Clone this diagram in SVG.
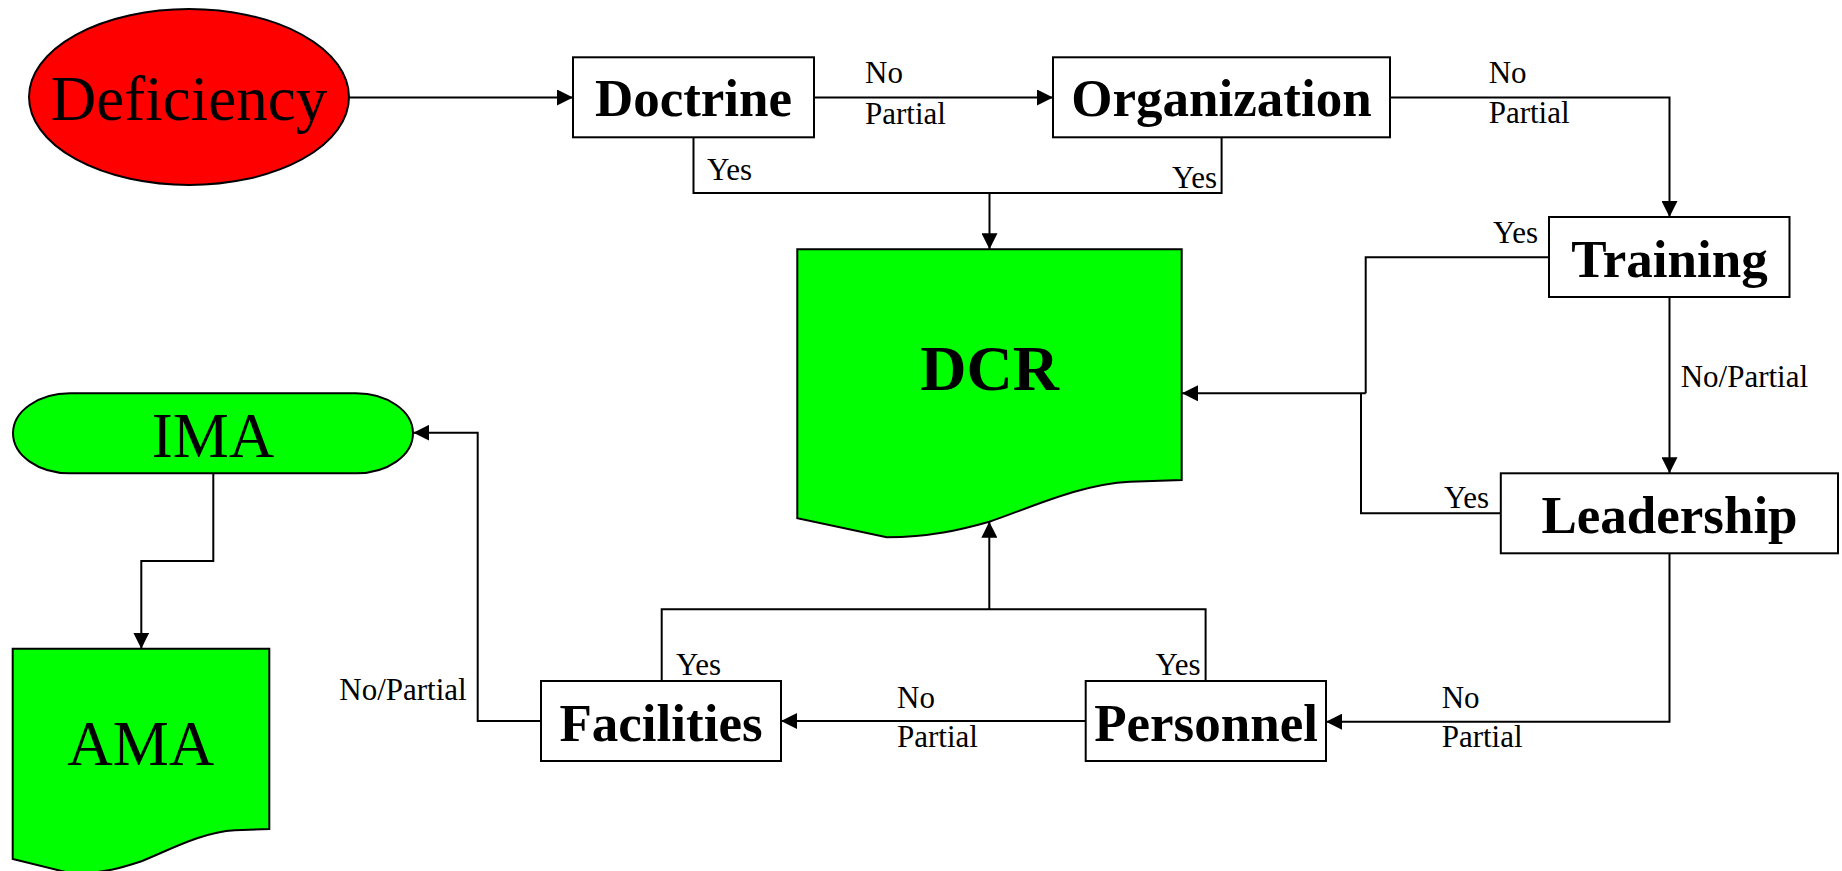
<svg xmlns="http://www.w3.org/2000/svg" width="1842" height="871" viewBox="0 0 1842 871">
<style>
.box{fill:#fff;stroke:#000;stroke-width:2}
.green{fill:#00ff00;stroke:#000;stroke-width:2}
.red{fill:#ff0000;stroke:#000;stroke-width:2}
.conn path{fill:none;stroke:#000;stroke-width:2}
.arr{marker-end:url(#ah)}
.t{font-family:"Liberation Serif","Times New Roman",serif;fill:#000}
.big{font-size:63px;text-anchor:middle}
.bold{font-size:53px;font-weight:bold;text-anchor:middle}
.lbl{font-size:31px}
</style>
<defs>
<marker id="ah" markerUnits="userSpaceOnUse" markerWidth="16" markerHeight="16" refX="16" refY="8" orient="auto">
<path d="M0,0 L16,8 L0,16 z" fill="#000"/>
</marker>
</defs>
<rect width="1842" height="871" fill="#fff"/>
<g class="conn">
<path class="arr" d="M349.5,97.5 H573"/>
<path class="arr" d="M814,97.5 H1053"/>
<path class="arr" d="M1390,97.5 H1669.5 V217"/>
<path d="M693.5,137 V193 H1221.6 V137"/>
<path class="arr" d="M989.5,193 V249.3"/>
<path d="M1549,257.3 H1365.7 V393.3"/>
<path d="M1501,513.3 H1361 V393.3"/>
<path class="arr" d="M1365.7,393.3 H1182"/>
<path class="arr" d="M1669.5,297 V473.3"/>
<path class="arr" d="M1669.5,553.3 V721.7 H1326"/>
<path class="arr" d="M1085.7,721 H781"/>
<path d="M661.7,681 V609.3 H1205.6 V681"/>
<path class="arr" d="M989.3,609.3 V521.7"/>
<path class="arr" d="M541,721 H477.7 V432.7 H413.3"/>
<path class="arr" d="M213.3,473.3 V561 H141.3 V648.7"/>
<g class="t lbl">
<text x="865" y="83.3">No</text>
<text x="865" y="124">Partial</text>
<text x="1488.7" y="83">No</text>
<text x="1488.7" y="123">Partial</text>
<text x="707" y="180">Yes</text>
<text x="1217" y="187.7" text-anchor="end">Yes</text>
<text x="1538" y="242.7" text-anchor="end">Yes</text>
<text x="1680.7" y="386.7">No/Partial</text>
<text x="1489" y="507.7" text-anchor="end">Yes</text>
<text x="1441.7" y="708.3">No</text>
<text x="1441.7" y="746.7">Partial</text>
<text x="897" y="708.3">No</text>
<text x="897" y="746.7">Partial</text>
<text x="676" y="675">Yes</text>
<text x="1200.5" y="675" text-anchor="end">Yes</text>
<text x="466.7" y="700" text-anchor="end">No/Partial</text>
</g>
</g>
<g id="deficiency">
<ellipse class="red" cx="189" cy="97" rx="160" ry="88"/>
<text class="t big" x="189" y="120">Deficiency</text>
</g>
<g id="doctrine">
<rect class="box" x="573" y="57.3" width="241" height="80"/>
<text class="t bold" x="693.5" y="116">Doctrine</text>
</g>
<g id="organization">
<rect class="box" x="1053" y="57.3" width="337" height="80"/>
<text class="t bold" x="1221.5" y="116">Organization</text>
</g>
<g id="training">
<rect class="box" x="1549" y="217" width="240.5" height="80"/>
<text class="t bold" x="1669.5" y="277">Training</text>
</g>
<g id="leadership">
<rect class="box" x="1500.8" y="473.3" width="337.2" height="80"/>
<text class="t bold" x="1669.5" y="532.7">Leadership</text>
</g>
<g id="personnel">
<rect class="box" x="1085.7" y="681" width="240.3" height="80"/>
<text class="t bold" x="1206" y="741">Personnel</text>
</g>
<g id="facilities">
<rect class="box" x="541" y="681" width="240" height="80"/>
<text class="t bold" x="661" y="741">Facilities</text>
</g>
<g id="dcr">
<path class="green" d="M797.3,249.3 H1181.7 V480 L1130,481.7 C1080,484 1030,508 989.3,521.7 C960,530 930,537 886.7,537.3 L797.3,518.3 Z"/>
<text class="t" x="989.7" y="390" font-size="64" font-weight="bold" text-anchor="middle">DCR</text>
</g>
<g id="ima">
<path class="green" d="M70,393.3 H356 A57,40 0 0 1 356,473.3 H70 A57,40 0 0 1 70,393.3 Z"/>
<text class="t big" x="213" y="456.7">IMA</text>
</g>
<g id="ama">
<path class="green" d="M12.7,648.7 H269.3 V829 L234.8,830.3 C201.4,832.1 168,850.8 140.7,861.5 C121.3,868 101.3,873.5 72.4,873.7 L12.7,858.9 Z"/>
<text class="t big" x="140.8" y="765">AMA</text>
</g>
</svg>
